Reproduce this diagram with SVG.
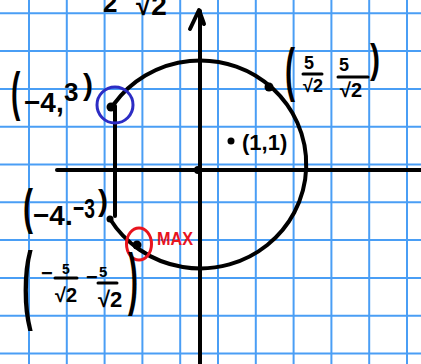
<svg xmlns="http://www.w3.org/2000/svg" width="421" height="364" viewBox="0 0 421 364">
<style>
.g{stroke:#4a9ef5;stroke-width:2}
.ax{stroke:#000;stroke-width:4;fill:none;stroke-linecap:round;stroke-linejoin:round}
.t{font-family:"Liberation Sans",Arial,sans-serif;font-weight:bold;fill:#000}
.p{font-family:"Liberation Sans",Arial,sans-serif;font-weight:bold;font-size:30px;fill:#000}
.bar{stroke:#000;stroke-width:3;stroke-linecap:round}
.dot{fill:#000}
</style>
<rect width="421" height="364" fill="#fff"/>
<g id="grid" class="g">
<line x1="29" y1="0" x2="29" y2="364"/>
<line x1="66.8" y1="0" x2="66.8" y2="364"/>
<line x1="104.6" y1="0" x2="104.6" y2="364"/>
<line x1="142.4" y1="0" x2="142.4" y2="364"/>
<line x1="180.2" y1="0" x2="180.2" y2="364"/>
<line x1="218" y1="0" x2="218" y2="364"/>
<line x1="255.8" y1="0" x2="255.8" y2="364"/>
<line x1="293.6" y1="0" x2="293.6" y2="364"/>
<line x1="331.4" y1="0" x2="331.4" y2="364"/>
<line x1="369.2" y1="0" x2="369.2" y2="364"/>
<line x1="407" y1="0" x2="407" y2="364"/>
<line x1="0" y1="13.3" x2="421" y2="13.3"/>
<line x1="0" y1="51.1" x2="421" y2="51.1"/>
<line x1="0" y1="88.9" x2="421" y2="88.9"/>
<line x1="0" y1="126.7" x2="421" y2="126.7"/>
<line x1="0" y1="164.5" x2="421" y2="164.5"/>
<line x1="0" y1="202.3" x2="421" y2="202.3"/>
<line x1="0" y1="240.1" x2="421" y2="240.1"/>
<line x1="0" y1="277.9" x2="421" y2="277.9"/>
<line x1="0" y1="315.7" x2="421" y2="315.7"/>
<line x1="0" y1="353.5" x2="421" y2="353.5"/>
</g>
<g id="connectors">
<line class="ax" x1="57" y1="170" x2="421" y2="170"/>
<line class="ax" x1="200" y1="11" x2="200" y2="364"/>
<polyline class="ax" points="190,29 199,10 204,24"/>
<path class="ax" d="M 114,104 A 106 104 0 1 1 110,219"/>
<line class="ax" x1="115" y1="106" x2="115" y2="216"/>
</g>
<g id="origin"><circle class="dot" cx="198" cy="170" r="4"/></g>
<g id="p-4_3">
<circle class="dot" cx="111" cy="107" r="4.5"/>
<circle cx="115" cy="105" r="18" fill="none" stroke="#2c2cc4" stroke-width="3"/>
<text class="p" transform="translate(11,109.5) scale(1,1.94)" style="font-size:28px">(</text>
<text class="t" x="24" y="112" font-size="28">−4,</text>
<text class="t" x="64" y="101" font-size="26">3</text>
<text class="p" x="83" y="95">)</text>
</g>
<g id="p-top">
<text class="t" x="103" y="12" font-size="26">2</text>
<text class="t" x="136" y="15" font-size="28">√2</text>
</g>
<g id="p5r2">
<circle class="dot" cx="269" cy="87" r="4.5"/>
<text class="p" transform="translate(285,90.4) scale(1,1.99)">(</text>
<text class="t" x="304" y="69" font-size="18">5</text>
<line class="bar" x1="303" y1="74" x2="322" y2="74"/>
<text class="t" x="303" y="92" font-size="18">√2</text>
<text class="t" x="339" y="71" font-size="18">5</text>
<line class="bar" x1="338" y1="77" x2="368" y2="77"/>
<text class="t" x="340" y="97" font-size="20">√2</text>
<text class="p" transform="translate(370,73.2) scale(1,1.38)">)</text>
</g>
<g id="p1_1">
<circle class="dot" cx="231" cy="141" r="3.5"/>
<text class="t" x="242" y="150" font-size="22">(1,1)</text>
</g>
<g id="p-4_-3">
<circle class="dot" cx="110" cy="219" r="3.5"/>
<text class="p" transform="translate(23,224.4) scale(1,1.67)">(</text>
<text class="t" x="33" y="225" font-size="28">−4.</text>
<text class="t" x="73" y="218" font-size="28" textLength="22" lengthAdjust="spacingAndGlyphs">−3</text>
<text class="p" x="98" y="211">)</text>
</g>
<g id="pmax">
<circle class="dot" cx="137" cy="245" r="4.5"/>
<ellipse cx="139" cy="244" rx="12.5" ry="16" fill="none" stroke="#e8141e" stroke-width="3"/>
<text x="157" y="245" font-size="18" font-family="Liberation Sans, Arial, sans-serif" font-weight="bold" fill="#e8141e" textLength="36" lengthAdjust="spacingAndGlyphs">MAX</text>
<text class="p" transform="translate(22,313.4) scale(1,2.72)" style="font-size:32px">(</text>
<text class="t" x="41" y="280" font-size="20">−</text>
<text class="t" x="62" y="274" font-size="14">5</text>
<line class="bar" x1="55" y1="278" x2="77" y2="278"/>
<text class="t" x="55" y="302" font-size="20">√2</text>
<text class="t" x="86" y="284" font-size="20">−</text>
<text class="t" x="99" y="277" font-size="15">5</text>
<line class="bar" x1="98" y1="283" x2="117" y2="283"/>
<text class="t" x="98" y="307" font-size="22">√2</text>
<text class="p" transform="translate(128,301.6) scale(1,2.27)">)</text>
</g>
</svg>
